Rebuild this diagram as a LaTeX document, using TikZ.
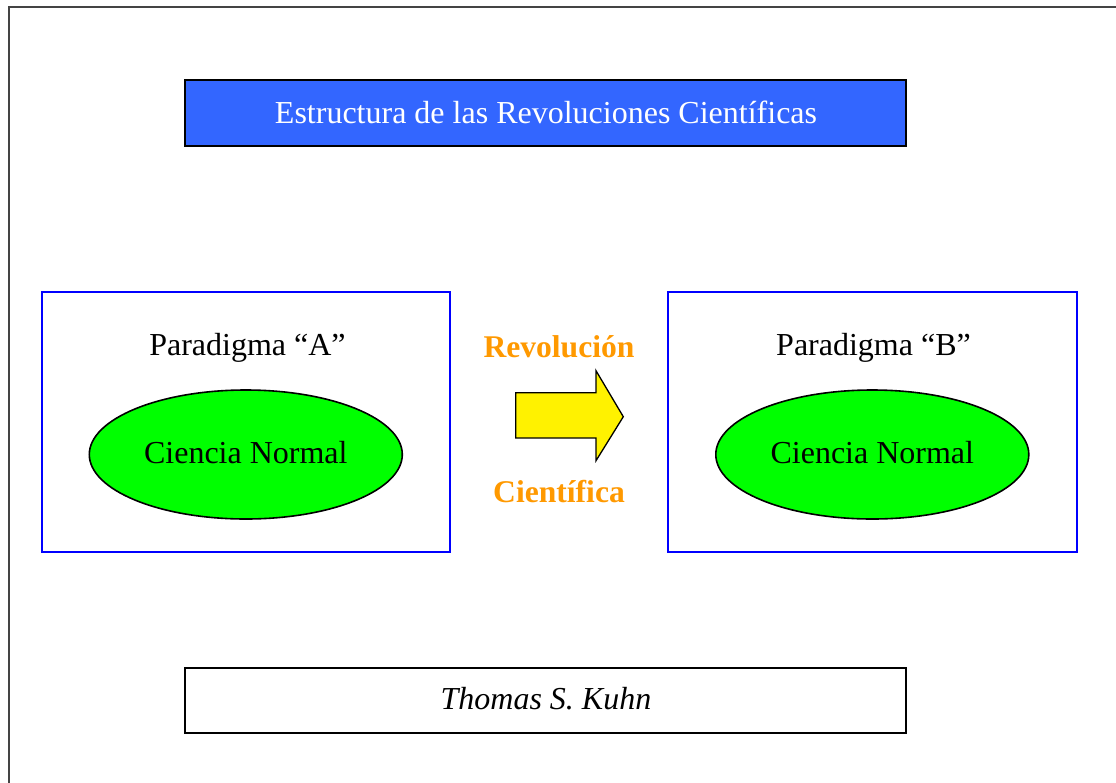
\documentclass[tikz,border=0pt]{standalone}
\usepackage{fontspec}
\setmainfont{Liberation Serif}
\usetikzlibrary{shapes.geometric}
\definecolor{titleblue}{HTML}{3366FF}
\definecolor{framegray}{HTML}{444444}
\definecolor{revorange}{HTML}{FF9900}
\definecolor{cngreen}{HTML}{00FF00}
\tikzset{
  big/.style={font=\fontsize{32}{36}\selectfont, inner sep=0pt, anchor=base},
  parabox/.style={draw=blue, line width=2pt},
  cnellipse/.style={draw=black, fill=cngreen, line width=1.6pt},
  banner/.style={draw=black, line width=2.2pt},
  revtext/.style={big, text=revorange, font=\fontsize{31.6}{36}\selectfont\bfseries}
}
\begin{document}
\begin{tikzpicture}[x=1pt, y=-1pt]
  \useasboundingbox (0,0) rectangle (1116,782);
  \fill[white] (0,0) rectangle (1116,782);
  % page frame, open to the right and bottom
  \begin{scope}
    \clip (0,0) rectangle (1116,782);
    \draw[framegray, line width=2pt] (8.5,790) -- (8.5,7) -- (1125,7);
  \end{scope}

  % title banner
  \draw[banner, fill=titleblue] (185,80) rectangle (906,146);
  \node[big, text=white] (title) at (546,123) {Estructura de las Revoluciones Científicas};

  % paradigm A
  \draw[parabox] (41.7,291.7) rectangle (450,551.7);
  \node[big] (paraA) at (247.5,355.5) {Paradigma “A”};
  \node[cnellipse, ellipse, minimum width=313pt, minimum height=129pt] (cnA) at (245.8,454.5) {};
  \node[big] (cnAtext) at (245.8,463) {Ciencia Normal};

  % paradigm B
  \draw[parabox] (668.3,291.7) rectangle (1076.7,551.7);
  \node[big] (paraB) at (873.5,355.5) {Paradigma “B”};
  \node[cnellipse, ellipse, minimum width=313pt, minimum height=129pt] (cnB) at (872.3,454.5) {};
  \node[big] (cnBtext) at (872.3,463) {Ciencia Normal};

  % revolution arrow
  \node[revtext] (rev) at (559,357) {Revolución};
  \node[revtext] (cient) at (559,502.5) {Científica};
  \draw[black, fill=yellow, line width=1.3pt, line join=miter]
    (515.7,392.7) -- (596,392.7) -- (596,370.7) -- (623.3,416.7)
    -- (596,460.7) -- (596,438) -- (515.7,438) -- cycle;

  % author banner
  \draw[banner, fill=white] (185,668) rectangle (906,733);
  \node[big, font=\fontsize{32}{36}\selectfont\itshape] (author) at (546,709) {Thomas S. Kuhn};
\end{tikzpicture}
\end{document}
